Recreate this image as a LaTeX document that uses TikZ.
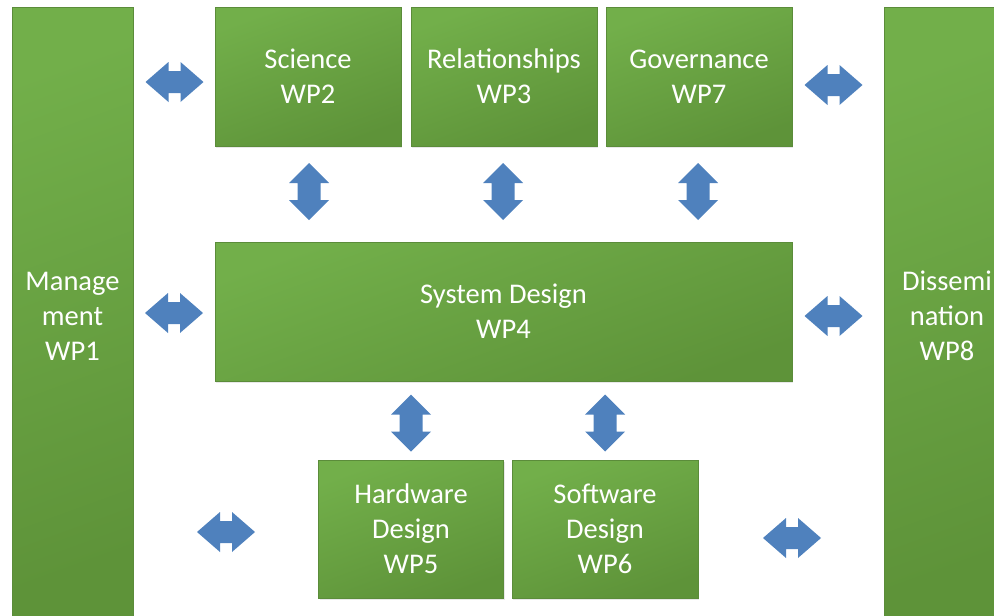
\documentclass[tikz,border=0pt]{standalone}
\usepackage{fontspec}
\setmainfont{Carlito}
\usetikzlibrary{shadows}
\definecolor{wpgreen}{HTML}{6AA443}
\definecolor{wplight}{HTML}{72AF4A}
\definecolor{wpdark}{HTML}{5E9339}
\definecolor{wpedge}{HTML}{5B8C3A}
\definecolor{linkblue}{HTML}{4F81BD}
\tikzset{
  wpbox/.style={draw=wpedge, line width=0.8pt, top color=wplight, bottom color=wpdark,
    shading angle=20, rectangle, inner sep=0pt, outer sep=0pt,
    text=white, align=center, font=\fontsize{28.5}{35}\selectfont,
    drop shadow={opacity=0.18, shadow xshift=1pt, shadow yshift=-1.5pt}},
  harrow/.pic={\fill[linkblue] (-29,0) -- (-6,20) -- (-6,11) -- (6,11) -- (6,20) -- (29,0)
    -- (6,-20) -- (6,-11) -- (-6,-11) -- (-6,-20) -- cycle;},
  varrow/.pic={\fill[linkblue] (0,-28.5) -- (20,-8.5) -- (11.5,-8.5) -- (11.5,8.5) -- (20,8.5)
    -- (0,28.5) -- (-20,8.5) -- (-11.5,8.5) -- (-11.5,-8.5) -- (-20,-8.5) -- cycle;}
}
\begin{document}
\begin{tikzpicture}[x=1pt,y=-1pt]
\useasboundingbox (0,0) rectangle (994,616);
% side columns
\node[wpbox, minimum width=121pt, minimum height=618pt] (wp1) at (72.5,316) {Manage\\ment\\WP1};
\node[wpbox, minimum width=126pt, minimum height=618pt] (wp8) at (947,316) {Dissemi\\nation\\WP8};
% top row
\node[wpbox, minimum width=186pt, minimum height=139pt] (wp2) at (308,76.5) {Science\\WP2};
\node[wpbox, minimum width=186pt, minimum height=139pt] (wp3) at (504,76.5) {Relationships\\WP3};
\node[wpbox, minimum width=186pt, minimum height=139pt] (wp7) at (699,76.5) {Governance\\WP7};
% central block
\node[wpbox, minimum width=577pt, minimum height=139pt] (wp4) at (503.5,311.5) {System Design\\WP4};
% bottom row
\node[wpbox, minimum width=185pt, minimum height=138pt] (wp5) at (411,529) {Hardware\\Design\\WP5};
\node[wpbox, minimum width=186pt, minimum height=138pt] (wp6) at (605,529) {Software\\Design\\WP6};
% horizontal links to the side columns
\pic at (174.5,82) {harrow};
\pic at (833.5,85) {harrow};
\pic at (174,313) {harrow};
\pic at (833.5,316) {harrow};
\pic at (226,532) {harrow};
\pic at (792,538) {harrow};
% vertical links to the system design block
\pic at (309,191.5) {varrow};
\pic at (503,191.5) {varrow};
\pic at (698,191.5) {varrow};
\pic at (411,423) {varrow};
\pic at (605,423) {varrow};
\end{tikzpicture}
\end{document}
